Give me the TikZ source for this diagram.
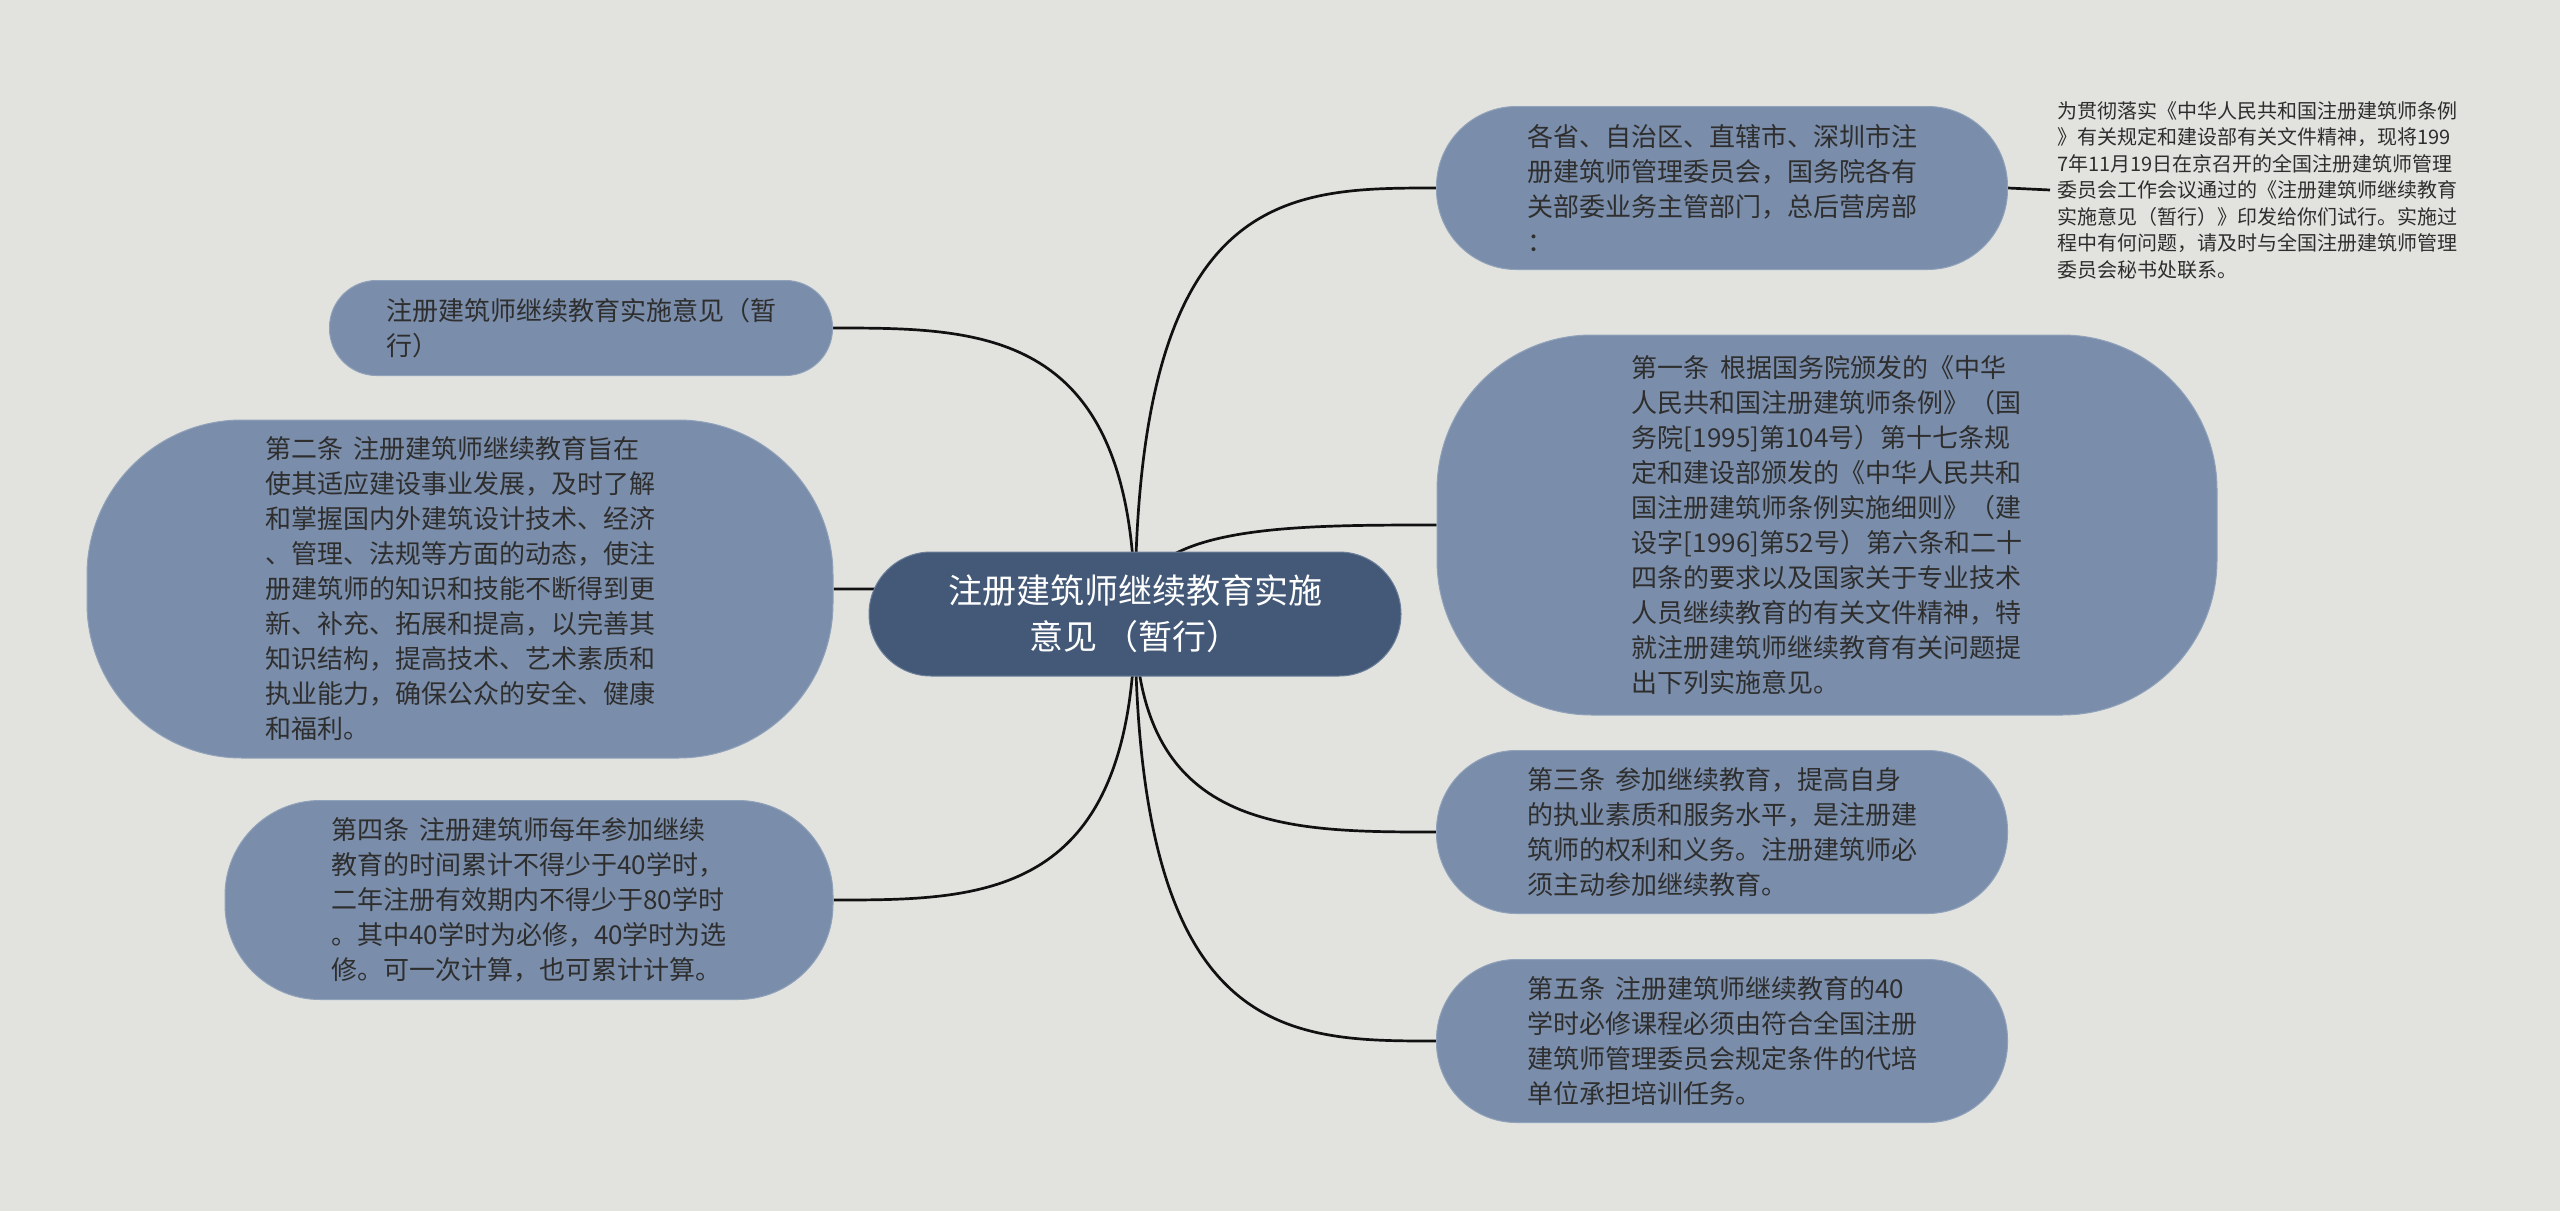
\documentclass[tikz,border=0pt]{standalone}
\usepackage{fontspec}
\newfontfamily\cjk{Noto Sans CJK SC}
\usetikzlibrary{calc}
\pgfdeclarelayer{bg}
\pgfsetlayers{bg,main}
\definecolor{bgc}{HTML}{E2E3DF}
\definecolor{childc}{HTML}{7A8DAA}
\definecolor{childedge}{HTML}{90A1BA}
\definecolor{rootc}{HTML}{435977}
\definecolor{rootedge}{HTML}{6C7F9A}
\definecolor{textc}{HTML}{2E2E2E}
\definecolor{linec}{HTML}{111111}
\newcommand\sgap{\hspace{0.4em}}
\tikzset{
  child/.style={fill=childc, draw=childedge, line width=1pt, text=textc,
    font=\cjk\fontsize{26}{35}\selectfont, align=left, inner sep=0pt},
  root/.style={fill=rootc, draw=rootedge, line width=1pt, text=white,
    font=\cjk\fontsize{34}{46}\selectfont, align=center, inner sep=0pt,
    minimum width=532, minimum height=124, rounded corners=62},
  plain/.style={text=textc, font=\cjk\fontsize{20}{26.5}\selectfont, align=left,
    inner xsep=7pt, inner ysep=0pt},
  conn/.style={draw=linec, line width=2.7pt}
}
\begin{document}
\begin{tikzpicture}[x=1pt,y=-1pt]
\useasboundingbox (0,0) rectangle (2560,1211);

\node[root] (C) at (1135,614) {注册建筑师继续教育实施\\意见 （暂行）};

\node[child, minimum width=571, minimum height=163, rounded corners=80] (N1) at (1722,188)
{各省、自治区、直辖市、深圳市注\\册建筑师管理委员会，国务院各有\\关部委业务主管部门，总后营房部\\：};

\node[plain, anchor=west] (T) at (2050,190)
{为贯彻落实《中华人民共和国注册建筑师条例\\》有关规定和建设部有关文件精神，现将199\\7年11月19日在京召开的全国注册建筑师管理\\委员会工作会议通过的《注册建筑师继续教育\\实施意见（暂行）》印发给你们试行。实施过\\程中有何问题，请及时与全国注册建筑师管理\\委员会秘书处联系。};

\node[child, minimum width=780, minimum height=380, rounded corners=155] (N3) at (1827,525)
{第一条\sgap 根据国务院颁发的《中华\\人民共和国注册建筑师条例》（国\\务院[1995]第104号）第十七条规\\定和建设部颁发的《中华人民共和\\国注册建筑师条例实施细则》（建\\设字[1996]第52号）第六条和二十\\四条的要求以及国家关于专业技术\\人员继续教育的有关文件精神，特\\就注册建筑师继续教育有关问题提\\出下列实施意见。};

\node[child, minimum width=571, minimum height=163, rounded corners=80] (N4) at (1722,832)
{第三条\sgap 参加继续教育，提高自身\\的执业素质和服务水平，是注册建\\筑师的权利和义务。注册建筑师必\\须主动参加继续教育。};

\node[child, minimum width=571, minimum height=163, rounded corners=80] (N5) at (1722,1041)
{第五条\sgap 注册建筑师继续教育的40\\学时必修课程必须由符合全国注册\\建筑师管理委员会规定条件的代培\\单位承担培训任务。};

\node[child, minimum width=503, minimum height=95, rounded corners=47] (L1) at (581,328)
{注册建筑师继续教育实施意见（暂\\行）};

\node[child, minimum width=746, minimum height=338, rounded corners=155] (L2) at (460,589)
{第二条\sgap 注册建筑师继续教育旨在\\使其适应建设事业发展，及时了解\\和掌握国内外建筑设计技术、经济\\、管理、法规等方面的动态，使注\\册建筑师的知识和技能不断得到更\\新、补充、拓展和提高，以完善其\\知识结构，提高技术、艺术素质和\\执业能力，确保公众的安全、健康\\和福利。};

\node[child, minimum width=608, minimum height=199, rounded corners=95] (L3) at (529,900)
{第四条\sgap 注册建筑师每年参加继续\\教育的时间累计不得少于40学时，\\二年注册有效期内不得少于80学时\\。其中40学时为必修，40学时为选\\修。可一次计算，也可累计计算。};

\begin{pgfonlayer}{bg}
\fill[bgc] (0,0) rectangle (2560,1211);
\foreach \n/\a in {N1/west,N3/west,N4/west,N5/west,L1/east,L2/east,L3/east}{
  \draw[conn] (C.center) .. controls (C.center |- \n.\a) and ($(C.center |- \n.\a)!0.5!(\n.\a)$) .. (\n.\a);
}
\draw[conn] (N1.east) -- (T.west);
\end{pgfonlayer}
\end{tikzpicture}
\end{document}
